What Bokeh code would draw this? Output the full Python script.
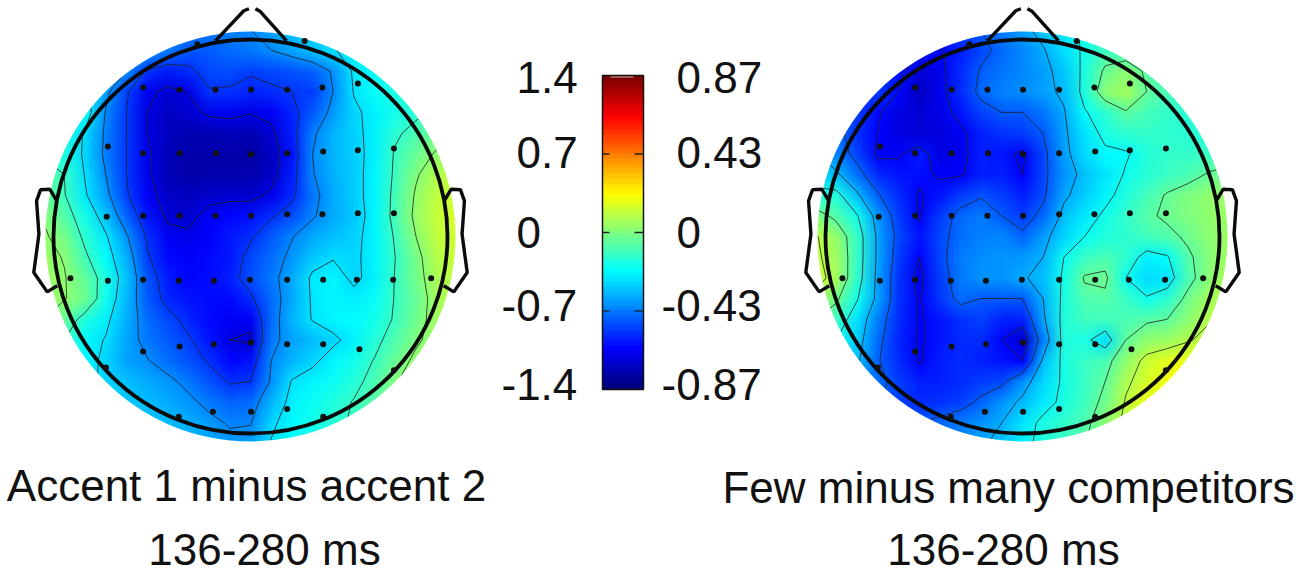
import base64
import struct
import zlib

import numpy as np
from bokeh.core.properties import value
from bokeh.embed import file_html
from bokeh.models import LinearColorMapper
from bokeh.plotting import figure
from bokeh.resources import INLINE

# scalp maps, hundredths of a microvolt, rows from front to back of the head
accent_map = [
    [-45,-45,-47,-50,-55,-58,-60,-68,-72,-70,-67,-60,-50,-45,-40,-35,-30,-27,-25,-22,-20],
    [-45,-45,-47,-50,-55,-62,-72,-82,-80,-75,-72,-67,-60,-52,-44,-38,-33,-28,-25,-22,-20],
    [-40,-40,-42,-48,-67,-92,-98,-93,-85,-84,-88,-85,-83,-78,-65,-40,-34,-28,-24,-20,-18],
    [-35,-35,-38,-62,-88,-108,-118,-112,-91,-92,-96,-93,-90,-88,-67,-42,-33,-27,-22,-17,-15],
    [-30,-30,-32,-68,-90,-113,-122,-118,-110,-108,-112,-108,-95,-80,-62,-46,-38,-30,-24,-17,-12],
    [-25,-28,-45,-70,-90,-113,-122,-126,-125,-124,-125,-117,-97,-70,-55,-47,-38,-23,-14,-5,-5],
    [-23,-28,-46,-71,-90,-110,-125,-128,-128,-128,-130,-122,-100,-67,-55,-48,-38,-18,-6,5,8],
    [-10,-20,-44,-67,-90,-110,-125,-128,-127,-127,-127,-120,-97,-68,-56,-48,-37,-17,1,14,18],
    [-5,-19,-41,-62,-88,-107,-120,-122,-119,-117,-118,-110,-94,-72,-58,-48,-37,-15,5,18,22],
    [2,-12,-30,-52,-78,-100,-116,-118,-107,-104,-101,-92,-83,-69,-58,-50,-37,-14,7,20,24],
    [5,-3,-24,-41,-65,-92,-108,-110,-105,-98,-92,-80,-68,-58,-52,-47,-37,-18,3,18,22],
    [8,2,-17,-35,-57,-88,-103,-106,-103,-99,-85,-75,-63,-50,-44,-46,-37,-20,-2,15,20],
    [8,4,-8,-28,-52,-82,-98,-104,-102,-96,-83,-72,-58,-40,-37,-46,-38,-19,-3,12,18],
    [8,4,-5,-31,-55,-80,-95,-100,-102,-103,-93,-75,-58,-41,-37,-39,-33,-19,-6,10,16],
    [3,-8,-27,-39,-57,-75,-85,-95,-103,-108,-108,-75,-55,-42,-37,-35,-30,-18,-4,10,15],
    [0,-20,-36,-44,-60,-72,-80,-88,-100,-113,-116,-72,-60,-53,-46,-38,-25,-12,0,10,15],
    [-5,-20,-36,-47,-60,-66,-75,-83,-92,-104,-100,-67,-55,-46,-37,-30,-19,-6,7,14,18],
    [-15,-25,-37,-47,-52,-58,-63,-72,-82,-92,-90,-65,-42,-37,-32,-25,-14,2,9,15,18],
    [-22,-28,-35,-44,-50,-53,-58,-63,-72,-78,-75,-55,-38,-32,-26,-19,-10,0,6,12,14],
    [-25,-30,-35,-42,-47,-50,-53,-57,-62,-69,-68,-46,-36,-30,-24,-18,-10,-3,3,8,10],
    [-25,-30,-34,-40,-44,-48,-50,-54,-58,-62,-60,-42,-34,-28,-22,-16,-9,-3,2,6,8],
]
competitor_map = [
    [-45,-45,-47,-48,-50,-52,-54,-55,-50,-44,-38,-31,-25,-18,-15,-14,-13,-12,-12,-12,-12],
    [-45,-45,-48,-52,-56,-62,-66,-60,-53,-47,-42,-36,-27,-18,-11,-12,-14,-14,-13,-13,-13],
    [-48,-48,-50,-55,-62,-72,-68,-58,-49,-45,-42,-38,-31,-17,-3,2,-7,-11,-13,-14,-14],
    [-48,-50,-52,-56,-65,-76,-68,-58,-47,-43,-41,-38,-33,-16,2,6,-5,-10,-13,-14,-14],
    [-45,-50,-55,-64,-70,-72,-69,-62,-54,-50,-50,-45,-36,-21,-14,-6,-10,-13,-15,-15,-15],
    [-42,-45,-58,-65,-70,-72,-71,-67,-60,-57,-55,-50,-37,-26,-17,-14,-13,-14,-15,-15,-14],
    [-35,-43,-54,-67,-66,-61,-70,-68,-60,-62,-67,-53,-38,-28,-22,-21,-16,-13,-13,-12,-10],
    [-28,-33,-46,-58,-62,-63,-66,-66,-60,-60,-65,-53,-40,-32,-26,-19,-15,-12,-9,-4,-2],
    [-15,-16,-33,-49,-58,-66,-62,-55,-51,-55,-60,-52,-37,-30,-23,-16,-10,-4,0,3,5],
    [0,-8,-19,-40,-55,-66,-55,-47,-44,-50,-55,-47,-32,-25,-18,-13,-7,-3,0,3,5],
    [11,3,-13,-37,-53,-62,-53,-46,-43,-42,-48,-38,-29,-20,-16,-14,-11,-8,-3,2,5],
    [12,5,-13,-37,-55,-65,-53,-44,-41,-40,-39,-35,-20,-12,-9,-14,-24,-21,-7,1,6],
    [14,6,-14,-38,-57,-68,-55,-44,-40,-40,-36,-32,-18,-4,-3,-20,-28,-26,-9,2,8],
    [8,-3,-19,-38,-57,-66,-56,-47,-50,-50,-50,-35,-17,-8,-7,-12,-19,-14,-2,6,10],
    [-5,-12,-27,-44,-58,-66,-62,-57,-54,-60,-60,-37,-16,-11,-11,-9,-7,-5,2,9,12],
    [-15,-20,-30,-47,-59,-66,-62,-58,-58,-65,-74,-43,-16,-17,-27,-5,3,5,9,13,16],
    [-25,-28,-33,-49,-58,-66,-60,-58,-60,-62,-65,-33,-17,-12,-9,3,13,17,19,20,20],
    [-30,-33,-38,-46,-55,-60,-60,-58,-55,-53,-40,-28,-18,-12,-5,8,15,20,22,22,22],
    [-35,-37,-42,-48,-54,-58,-57,-54,-48,-40,-33,-25,-17,-11,-2,11,18,22,23,23,23],
    [-38,-40,-44,-47,-50,-50,-47,-44,-40,-35,-26,-17,-13,-8,2,13,20,23,24,24,24],
    [-38,-40,-44,-46,-48,-48,-46,-42,-37,-31,-24,-16,-12,-6,4,14,20,23,24,24,24],
]
accent_levels = [-1.13, -0.9, -0.67, -0.43, -0.2, 0.03]
competitor_levels = [-0.65, -0.5, -0.35, -0.2, -0.05, 0.1]

# electrode positions in head radii
electrode_x = [-0.27, 0.275,
               -0.545, -0.36, -0.178, 0.003, 0.186, 0.365, 0.545,
               -0.724, -0.545, -0.36, -0.175, 0.003, 0.186, 0.369, 0.545, 0.728,
               -0.73, -0.545, -0.36, -0.178, 0.003, 0.186, 0.365, 0.545, 0.728,
               -0.914, -0.724, -0.545, -0.364, -0.186, -0.003, 0.186, 0.369, 0.54, 0.724, 0.917,
               -0.545, -0.36, -0.186, 0.003, 0.186, 0.369, 0.553,
               -0.734, 0.728,
               -0.364, -0.191, 0.003, 0.186, 0.369]
electrode_y = [0.976, 0.993,
               0.756, 0.745, 0.745, 0.745, 0.745, 0.756, 0.777,
               0.457, 0.423, 0.423, 0.423, 0.418, 0.423, 0.431, 0.438, 0.447,
               0.1, 0.105, 0.105, 0.105, 0.105, 0.113, 0.113, 0.118, 0.118,
               -0.212, -0.225, -0.22, -0.225, -0.225, -0.22, -0.22, -0.22, -0.22, -0.22, -0.212,
               -0.584, -0.558, -0.547, -0.538, -0.547, -0.547, -0.572,
               -0.665, -0.679,
               -0.915, -0.89, -0.89, -0.876, -0.915]

nose_left_x = [-0.178, -0.034, -0.008]
nose_left_y = [0.993, 1.146, 1.156]
nose_right_x = [0.025, 0.05, 0.183]
nose_right_y = [1.156, 1.142, 0.993]
ear_x = [0.985, 1.019, 1.066, 1.086, 1.074, 1.1, 1.032, 0.981]
ear_y = [0.184, 0.24, 0.237, 0.181, 0.012, -0.183, -0.281, -0.25]

left_ticks = ["1.4", "0.7", "0", "-0.7", "-1.4"]
right_ticks = ["0.87", "0.43", "0", "-0.43", "-0.87"]
tick_values = [1.4, 0.7, 0, -0.7, -1.4]
tick_nudge = [-2, 2, 0, 6, 5]


def jet(t):
    r = np.clip(1.5 - np.abs(4 * t - 3), 0, 1)
    g = np.clip(1.5 - np.abs(4 * t - 2), 0, 1)
    b = np.clip(1.5 - np.abs(4 * t - 1), 0, 1)
    return np.stack([r, g, b], axis=-1)


rgb = (jet(np.linspace(0, 1, 256)) * 255).astype(int)
palette = ["#%02x%02x%02x" % tuple(c) for c in rgb]


# the map goes in as a small png so the browser blends between the grid nodes
def map_png(z, limit):
    colours = (jet((z + limit) / (2 * limit)) * 255).astype(np.uint8)
    raw = b"".join(b"\x00" + row.tobytes() for row in colours)

    def chunk(tag, data):
        return struct.pack(">I", len(data)) + tag + data + struct.pack(">I", zlib.crc32(tag + data))

    png = b"\x89PNG\r\n\x1a\n"
    png += chunk(b"IHDR", struct.pack(">IIBBBBB", z.shape[1], z.shape[0], 8, 2, 0, 0, 0))
    png += chunk(b"IDAT", zlib.compress(raw))
    png += chunk(b"IEND", b"")
    return "data:image/png;base64," + base64.b64encode(png).decode()


R = 197
STEP = 0.105

p = figure(width=1300, height=574, x_range=(0, 1300), y_range=(-574, 0),
           output_backend="svg", toolbar_location=None, min_border=0)
p.axis.visible = False
p.grid.visible = False
p.outline_line_color = None


def head(cx, cy, grid, limit, levels):
    z = np.array(grid, dtype=float) / 100
    n = z.shape[0]
    size = n * STEP * R
    p.image_url(url=[map_png(z, limit)], x=cx - size / 2, y=-cy + size / 2, w=size, h=size, anchor="top_left")
    nodes = (np.arange(n) - (n - 1) / 2) * STEP * R
    p.contour(cx + nodes, -cy + nodes, np.flipud(z), levels, line_color="#222222", line_width=1.0, line_alpha=0.8)
    # white mask outside the coloured disc
    p.annulus(x=[cx], y=[-cy], inner_radius=205, outer_radius=312, fill_color="white", line_color=None)
    p.circle(x=[cx], y=[-cy], radius=R, fill_color=None, line_color="#0a0a0a", line_width=3.8)
    ex = np.array(ear_x)
    ey = np.array(ear_y)
    for side in (1, -1):
        p.line(cx + side * ex * R, -cy + ey * R, line_color="#0a0a0a", line_width=3.4)
    p.line(cx + np.array(nose_left_x) * R, -cy + np.array(nose_left_y) * R, line_color="#0a0a0a", line_width=3.4)
    p.line(cx + np.array(nose_right_x) * R, -cy + np.array(nose_right_y) * R, line_color="#0a0a0a", line_width=3.4)
    p.scatter(cx + np.array(electrode_x) * R, -cy + np.array(electrode_y) * R,
              size=6, marker="circle", fill_color="#111111", line_color=None)


head(250, 236, accent_map, 1.4, accent_levels)
head(1022, 236, competitor_map, 0.87, competitor_levels)

# colour bar
CB_LEFT, CB_RIGHT, CB_TOP, CB_BOTTOM = 602, 643, 75, 389
ramp = np.linspace(-1.4, 1.4, 64).reshape(64, 1)
bar_mapper = LinearColorMapper(palette=palette, low=-1.4, high=1.4)
p.image(image=[ramp], x=CB_LEFT, y=-CB_BOTTOM, dw=CB_RIGHT - CB_LEFT, dh=CB_BOTTOM - CB_TOP, color_mapper=bar_mapper)
p.quad(left=CB_LEFT, right=CB_RIGHT, top=-CB_TOP, bottom=-CB_BOTTOM, fill_color=None, line_color="#111111", line_width=1.5)


def bar_y(v):
    return -(CB_TOP + CB_BOTTOM) / 2 + v / 1.4 * (CB_BOTTOM - CB_TOP) / 2


for v in tick_values[1:-1]:
    p.segment(x0=[CB_LEFT, CB_RIGHT - 9], x1=[CB_LEFT + 7, CB_RIGHT], y0=[bar_y(v)] * 2, y1=[bar_y(v)] * 2,
              line_color="#222222", line_width=1.3)
p.segment(x0=[CB_LEFT + 8], x1=[CB_RIGHT - 10], y0=[bar_y(1.4) - 1.5], y1=[bar_y(1.4) - 1.5],
          line_color="#c8b4b0", line_width=1)

FONT = value("Liberation Sans")


def tick_labels(labels, x):
    xs = [x - 15 if s.startswith("-") else x for s in labels]
    ys = [bar_y(v) + d for v, d in zip(tick_values, tick_nudge)]
    p.text(x=xs, y=ys, text=labels, text_font=FONT, text_font_size="44px", text_color="#111111",
           text_align="left", text_baseline="middle")


tick_labels(left_ticks, 516)
tick_labels(right_ticks, 676)

captions = ["Accent 1 minus accent 2", "136-280 ms", "Few minus many competitors", "136-280 ms"]
caption_x = [246, 264, 1008, 1003]
caption_y = [-485, -549, -487, -549]
p.text(x=caption_x, y=caption_y, text=captions, text_font=FONT, text_font_size="44px", text_color="#111111",
       text_align="center", text_baseline="middle")

open("out.html", "w").write(file_html(p, INLINE))
